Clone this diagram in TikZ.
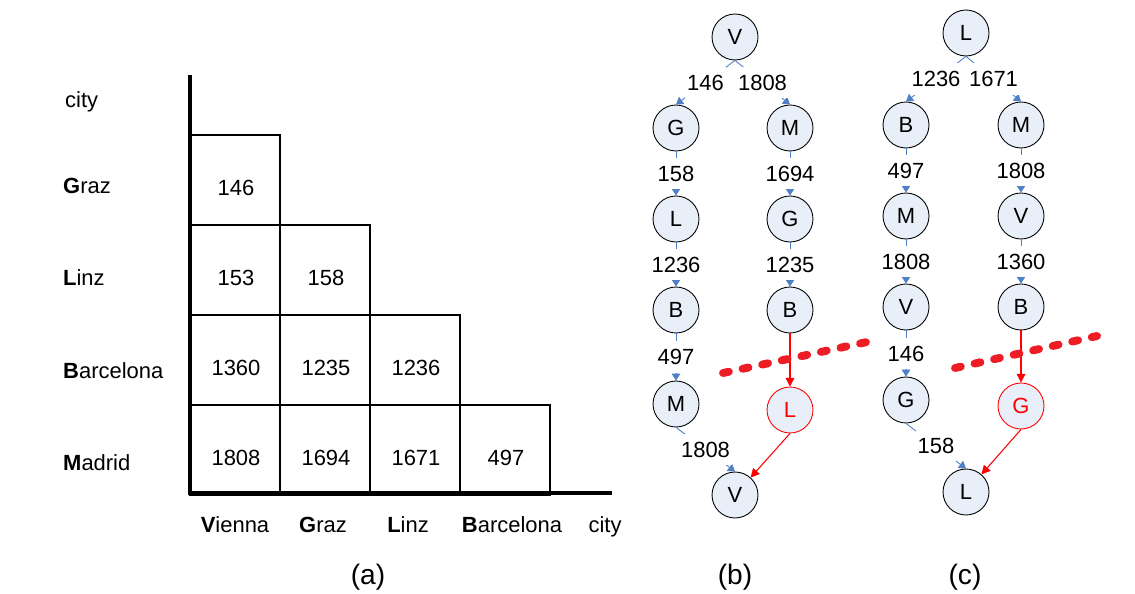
\documentclass[tikz,border=0pt]{standalone}
\usepackage{fontspec}
\setmainfont{Liberation Sans}
\usetikzlibrary{arrows.meta}
\definecolor{nodefill}{HTML}{E9EFF8}
\definecolor{edgeblue}{HTML}{4F7FC4}
\definecolor{cutred}{HTML}{EE1C25}

\begin{document}
\begin{tikzpicture}[x=0.02cm,y=-0.02cm,
    every node/.style={font=\fontsize{12.5}{15}\selectfont},
    caption/.style={font=\fontsize{16}{19}\selectfont},
    city/.style={circle,draw,line width=0.5pt,fill=nodefill,minimum size=0.92cm,inner sep=0pt},
    redcity/.style={city,draw=red,text=red},
    dist/.style={edgeblue,line width=0.5pt,-{Triangle[width=5pt,length=4pt]}},
    lbl/.style={fill=white,text=black,inner xsep=1pt,inner ysep=4.5pt},
    cut/.style={red,line width=0.6pt,-{Triangle[width=5pt,length=5pt]}},
    cutline/.style={cutred,line width=4.5pt,line cap=round,dash pattern=on 3.4pt off 8pt}]
    \useasboundingbox (0,0) rectangle (1135,594);

    % (a) distance table
    \foreach \r in {1,...,4}
        \foreach \c in {1,...,\r}
            \draw[line width=0.6pt] (100+90*\c,45+90*\r) rectangle (190+90*\c,135+90*\r);
    \draw[line width=2.4pt] (190,75) -- (190,493) -- (612,493);

    \foreach \r/\c/\v in {1/1/146, 2/1/153, 2/2/158, 3/1/1360, 3/2/1235, 3/3/1236,
                          4/1/1808, 4/2/1694, 4/3/1671, 4/4/497}
        \node (v\r\c) at (146+90*\c,98+90*\r) {\v};

    \node[anchor=base west] (rc) at (59,108) {city};
    \node[anchor=base west] (rG) at (57,194) {\textbf{G}raz};
    \node[anchor=base west] (rL) at (57,286) {\textbf{L}inz};
    \node[anchor=base west] (rB) at (57,378) {\textbf{B}arcelona};
    \node[anchor=base west] (rM) at (57,470) {\textbf{M}adrid};

    \node[anchor=base] (cV) at (235,532) {\textbf{V}ienna};
    \node[anchor=base] (cG) at (323,532) {\textbf{G}raz};
    \node[anchor=base] (cL) at (408,532) {\textbf{L}inz};
    \node[anchor=base] (cB) at (512,532) {\textbf{B}arcelona};
    \node[anchor=base] (cc) at (605,532) {city};
    \node[caption] (capa) at (368,577) {(a)};

    % (b) tree from Vienna
    \node[city] (bV1) at (735,37) {V};
    \node[city] (bG1) at (676,128) {G};
    \node[city] (bM1) at (790,128) {M};
    \node[city] (bL1) at (676,219) {L};
    \node[city] (bG2) at (790,219) {G};
    \node[city] (bB1) at (676,310) {B};
    \node[city] (bB2) at (790,310) {B};
    \node[city] (bM2) at (676,404) {M};
    \node[redcity] (bL2) at (790,410) {L};
    \node[city] (bV2) at (735,495) {V};
    \node[caption] (capb) at (735,577) {(b)};

    \foreach \a/\b/\w in {bV1/bG1/146, bV1/bM1/1808, bG1/bL1/158, bL1/bB1/1236,
                          bB1/bM2/497, bM2/bV2/1808, bM1/bG2/1694, bG2/bB2/1235}
        \draw[dist] (\a.south) -- node[lbl] {\w} (\b.north);
    \draw[cut] (bB2.south) -- (bL2.north);
    \draw[cut] (bL2.south) -- (bV2);
    \draw[cutline] (723,373) -- (867,342);

    % (c) tree from Linz
    \node[city] (cL1) at (966,33) {L};
    \node[city] (cB1) at (906,125) {B};
    \node[city] (cM1) at (1021,125) {M};
    \node[city] (cM2) at (906,216) {M};
    \node[city] (cV1) at (1021,216) {V};
    \node[city] (cV2) at (906,307) {V};
    \node[city] (cB2) at (1021,307) {B};
    \node[city] (cG1) at (906,400) {G};
    \node[redcity] (cG2) at (1021,406) {G};
    \node[city] (cL2) at (966,492) {L};
    \node[caption] (capc) at (965,577) {(c)};

    \foreach \a/\b/\w in {cL1/cB1/1236, cL1/cM1/1671, cB1/cM2/497, cM2/cV2/1808,
                          cV2/cG1/146, cG1/cL2/158, cM1/cV1/1808, cV1/cB2/1360}
        \draw[dist] (\a.south) -- node[lbl] {\w} (\b.north);
    \draw[cut] (cB2.south) -- (cG2.north);
    \draw[cut] (cG2.south) -- (cL2);
    \draw[cutline] (955,368) -- (1097,336);
\end{tikzpicture}
\end{document}
